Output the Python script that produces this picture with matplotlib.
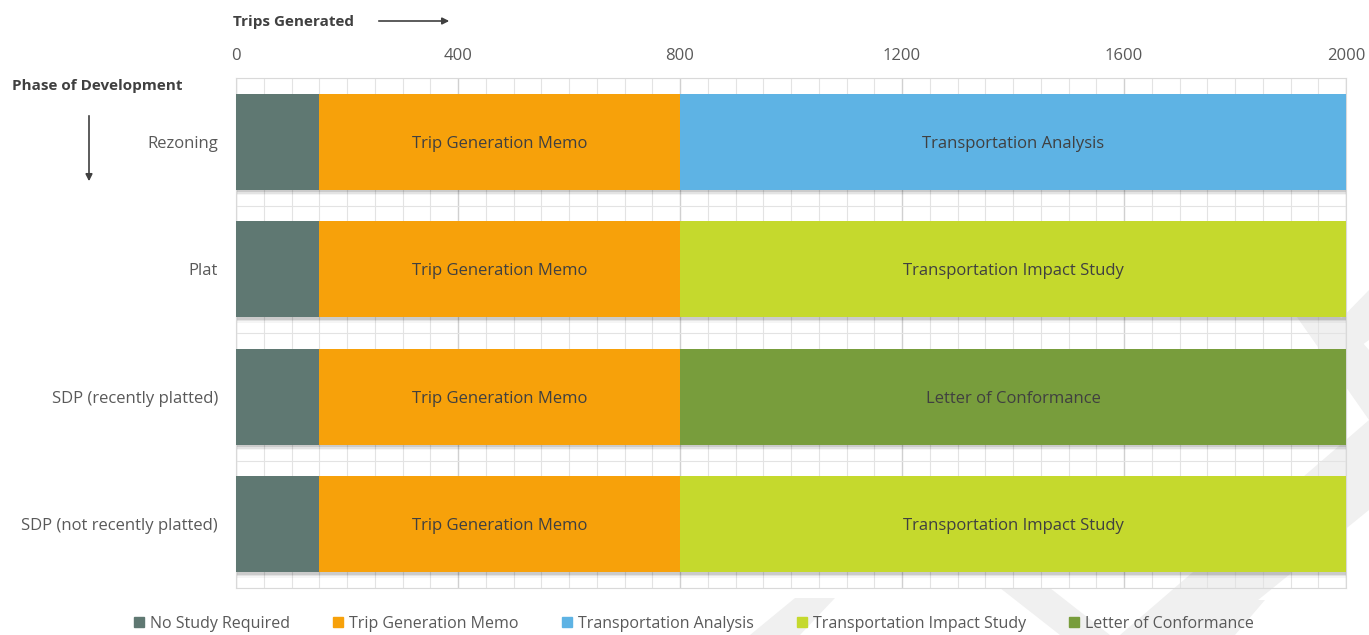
import matplotlib
matplotlib.use("Agg")
import matplotlib.pyplot as plt
from matplotlib.patches import Polygon, FancyArrowPatch
from matplotlib.lines import Line2D
import numpy as np

plt.rcParams['font.family'] = ['Open Sans', 'DejaVu Sans']

# ---- data -----------------------------------------------------------------
phases = ["Rezoning", "Plat", "SDP (recently platted)", "SDP (not recently platted)"]
no_study = [150, 150, 150, 150]
trip_memo = [650, 650, 650, 650]
upper_len = [1200, 1200, 1200, 1200]
upper_type = ["Transportation Analysis", "Transportation Impact Study",
              "Letter of Conformance", "Transportation Impact Study"]
legend_names = ["No Study Required", "Trip Generation Memo", "Transportation Analysis",
                "Transportation Impact Study", "Letter of Conformance"]
x_ticks = [0, 400, 800, 1200, 1600, 2000]

colors = {
    "No Study Required": "#5f7872",
    "Trip Generation Memo": "#f7a10a",
    "Transportation Analysis": "#5eb3e4",
    "Transportation Impact Study": "#c5d92d",
    "Letter of Conformance": "#789d3c",
}

W, H = 1369, 635
fig = plt.figure(figsize=(W / 100, H / 100), dpi=100)

def px(pts):
    return [(x / W, 1 - y / H) for x, y in pts]

# faint watermark stripes behind the chart
stripes = [
    [(1120, 635), (1215, 635), (1369, 510), (1369, 420)],
    [(1285, 300), (1325, 300), (1369, 350), (1369, 420)],
    [(1330, 330), (1369, 290), (1369, 340), (1355, 350)],
    [(1000, 588), (1050, 588), (1110, 635), (1060, 635)],
    [(1180, 635), (1220, 600), (1265, 600), (1235, 635)],
    [(750, 635), (795, 598), (835, 598), (800, 635)],
]
for s in stripes:
    fig.patches.append(Polygon(px(s), closed=True, transform=fig.transFigure,
                               facecolor="#f0f0f0", edgecolor="none", zorder=0))

ax = fig.add_axes([236 / W, 1 - 588 / H, (1346 - 236) / W, (588 - 78) / H])
ax.set_facecolor("none")
ax.set_zorder(2)

y = np.arange(len(phases))
bh = 0.75
# soft shadow under each bar
for k, a in enumerate([0.10, 0.07, 0.04]):
    ax.barh(y + 0.02 + k * 0.012, 2000, height=bh, left=0, color="#000000",
            alpha=a, zorder=2, linewidth=0)
ax.barh(y, no_study, height=bh, color=colors["No Study Required"], zorder=3)
ax.barh(y, trip_memo, height=bh, left=no_study, color=colors["Trip Generation Memo"], zorder=3)
left2 = np.array(no_study) + np.array(trip_memo)
for i in range(len(phases)):
    ax.barh(y[i], upper_len[i], height=bh, left=left2[i],
            color=colors[upper_type[i]], zorder=3)
    ax.text(no_study[i] + trip_memo[i] / 2, y[i], "Trip Generation Memo",
            ha="center", va="center_baseline", fontsize=12, color="#404040", zorder=4)
    ax.text(left2[i] + upper_len[i] / 2, y[i], upper_type[i],
            ha="center", va="center_baseline", fontsize=12, color="#404040", zorder=4)

ax.set_xlim(0, 2000)
ax.set_ylim(len(phases) - 0.5, -0.5)
ax.set_xticks(x_ticks)
ax.set_xticks(np.arange(0, 2001, 50), minor=True)
ax.set_yticks(np.arange(-0.5, len(phases), 0.5), minor=True)
ax.set_yticks(y)
ax.set_yticklabels(phases)
ax.xaxis.tick_top()
ax.tick_params(axis="x", which="both", length=0, labelsize=12, labelcolor="#595959", pad=10)
ax.tick_params(axis="y", which="both", length=0, labelsize=12, labelcolor="#595959", pad=13)
ax.grid(which="major", axis="x", color="#d0d0d0", lw=1.0, zorder=1)
ax.grid(which="minor", color="#e3e3e3", lw=0.8, zorder=1)
for sp in ax.spines.values():
    sp.set_color("#d9d9d9")

# axis titles with arrows
fig.text(233 / W, 1 - 22 / H, "Trips Generated", fontsize=11, fontweight="bold",
         color="#404040", va="center", ha="left")
fig.patches.append(FancyArrowPatch(px([(376, 21)])[0], px([(452, 21)])[0],
                                   transform=fig.transFigure, arrowstyle="-|>",
                                   mutation_scale=10, color="#404040", lw=1.2))
fig.text(12 / W, 1 - 86 / H, "Phase of Development", fontsize=11, fontweight="bold",
         color="#404040", va="center", ha="left")
fig.patches.append(FancyArrowPatch(px([(89, 113)])[0], px([(89, 184)])[0],
                                   transform=fig.transFigure, arrowstyle="-|>",
                                   mutation_scale=10, color="#404040", lw=1.2))

handles = [Line2D([], [], marker="s", ls="none", markersize=7,
                  markerfacecolor=colors[n], markeredgecolor=colors[n]) for n in legend_names]
fig.legend(handles, legend_names, loc="center", bbox_to_anchor=(690 / W, 1 - 624 / H),
           ncol=5, frameon=False, fontsize=11.5, handletextpad=-0.1, handlelength=1.6,
           columnspacing=2.2, labelcolor="#595959")

fig.savefig("out.png", dpi=100)
